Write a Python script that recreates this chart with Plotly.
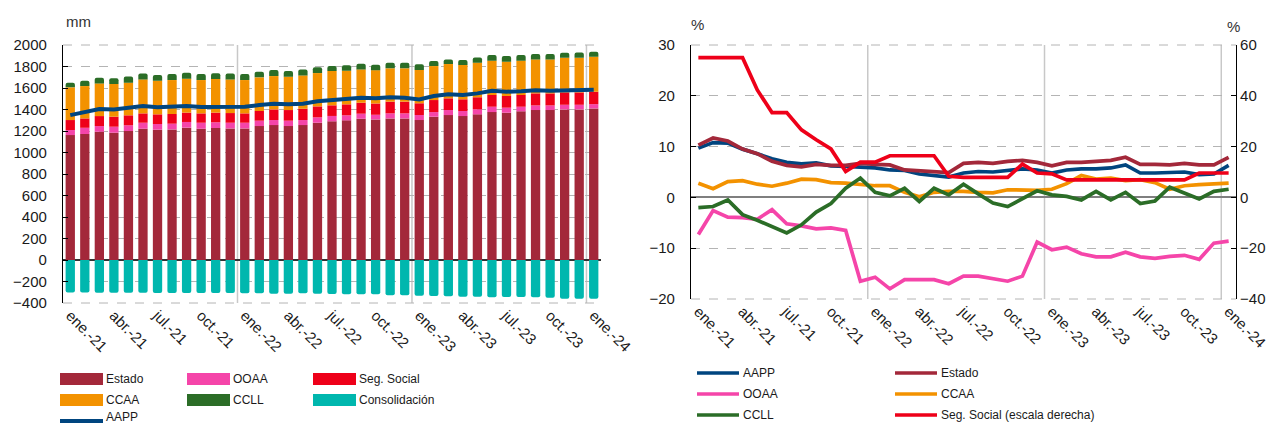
import plotly.graph_objects as go

# ---------------- data ----------------
months = ["ene.-21","feb.-21","mar.-21","abr.-21","may.-21","jun.-21","jul.-21","ago.-21","sep.-21","oct.-21","nov.-21","dic.-21",
          "ene.-22","feb.-22","mar.-22","abr.-22","may.-22","jun.-22","jul.-22","ago.-22","sep.-22","oct.-22","nov.-22","dic.-22",
          "ene.-23","feb.-23","mar.-23","abr.-23","may.-23","jun.-23","jul.-23","ago.-23","sep.-23","oct.-23","nov.-23","dic.-23",
          "ene.-24"]

# Left chart (mm)
estado = [1162,1172,1193,1184,1200,1221,1212,1215,1231,1221,1228,1224,1224,1246,1255,1246,1255,1277,1290,1299,1314,1308,1317,1317,
          1302,1333,1348,1339,1355,1376,1370,1383,1395,1395,1401,1401,1410]
ooaa = [47,58,53,56,53,56,53,53,53,56,53,53,53,50,47,50,47,50,50,47,47,43,47,47,47,43,47,47,47,50,47,43,43,43,43,43,40]
seg_social = [93,87,93,93,93,87,90,90,87,87,90,90,87,90,99,99,105,102,99,102,102,105,109,109,109,112,109,109,112,109,109,109,112,112,115,115,115]
ccaa = [304,301,304,304,304,316,313,316,316,310,313,313,310,313,310,310,310,310,319,313,310,310,310,310,310,316,319,319,322,319,319,319,316,316,322,322,326]
ccll = [43,50,53,53,56,56,53,56,56,56,53,56,56,53,56,53,56,53,47,50,53,50,53,53,53,47,43,47,47,53,53,53,50,50,47,50,47]
consolidacion = [-303,-303,-305,-305,-305,-305,-307,-307,-307,-307,-307,-307,-310,-310,-313,-313,-310,-313,-316,-319,-319,-319,-329,-329,
                 -332,-335,-338,-341,-341,-347,-344,-344,-347,-350,-360,-360,-360]
aapp = [1348,1373,1404,1401,1417,1432,1420,1423,1432,1423,1426,1426,1426,1441,1454,1448,1454,1476,1488,1494,1510,1504,1513,1510,
        1494,1525,1541,1535,1550,1575,1566,1569,1578,1575,1578,1578,1584]

# Right chart (%)
aapp_pct = [9.7,10.8,10.7,9.5,8.6,7.6,6.9,6.6,6.8,6.2,6.1,6.0,5.8,5.4,5.3,4.6,4.3,4.0,4.8,5.1,5.0,5.3,5.6,5.4,
            4.8,5.4,5.6,5.6,5.8,6.4,4.8,4.8,4.9,5.0,4.5,4.6,6.3]
estado_pct = [10.3,11.7,11.1,9.5,8.6,7.1,6.3,6.0,6.5,6.3,6.3,6.7,6.5,6.4,5.4,5.2,5.1,4.9,6.7,6.9,6.7,7.1,7.3,6.9,
              6.2,6.9,6.9,7.1,7.3,7.9,6.5,6.5,6.4,6.7,6.4,6.4,7.9]
ooaa_pct = [-7.3,-2.6,-3.9,-4.0,-4.3,-2.4,-5.2,-5.6,-6.2,-6.0,-6.5,-16.5,-15.7,-18.0,-16.2,-16.2,-16.2,-17.0,-15.5,-15.5,-16.0,-16.5,-15.5,-8.8,
            -10.3,-9.8,-11.1,-11.7,-11.7,-10.8,-11.7,-12.0,-11.6,-11.4,-12.2,-9.0,-8.6]
ccaa_pct = [2.8,1.7,3.1,3.3,2.6,2.2,2.8,3.6,3.5,2.9,2.8,2.6,2.3,2.3,1.0,0.1,1.0,1.2,1.2,1.0,0.9,1.5,1.4,1.4,
            1.6,2.7,4.3,3.6,3.8,3.3,3.5,2.9,1.6,2.3,2.5,2.7,2.8]
ccll_pct = [-2.0,-1.8,-0.5,-3.4,-4.5,-5.8,-7.0,-5.4,-2.9,-1.2,1.8,3.8,1.0,0.3,1.8,-0.8,1.8,0.5,2.6,0.7,-1.1,-1.8,-0.3,1.3,
            0.5,0.2,-0.5,1.2,-0.5,1.0,-1.2,-0.7,2.0,0.9,-0.3,1.2,1.6]
seg_social_pct = [55,55,55,55,42.3,33.4,33.4,26.6,22.7,19.1,10.2,13.9,13.9,16.4,16.4,16.4,16.4,8.3,7.9,7.9,7.9,7.9,13.1,9.6,
                  9.3,6.9,6.9,6.9,6.9,6.9,6.9,6.9,6.9,6.9,9.6,9.6,9.6]

# ---------------- styles ----------------
C_ESTADO = "#A3283A"
C_OOAA = "#F545A9"
C_SS = "#EE0019"
C_CCAA = "#F39200"
C_CCLL = "#2B6D27"
C_CONS = "#00B7AE"
C_AAPP = "#00457F"

W, H = 1274, 425
FONT = "Liberation Sans, Arial, Helvetica, sans-serif"
NARROW = "Liberation Sans Narrow, Arial Narrow, Liberation Sans, sans-serif"

x = list(range(len(months)))
tickvals = x[::3]
ticktext = months[::3]

def px_x(v):
    return v / W

def px_y(v):
    return 1 - v / H

fig = go.Figure()

bar_series = [("Estado", estado, C_ESTADO), ("OOAA", ooaa, C_OOAA), ("Seg. Social", seg_social, C_SS),
              ("CCAA", ccaa, C_CCAA), ("CCLL", ccll, C_CCLL), ("Consolidación", consolidacion, C_CONS)]
for name, vals, col in bar_series:
    fig.add_trace(go.Bar(x=x, y=vals, name=name, marker=dict(color=col, line=dict(width=0)),
                         xaxis="x", yaxis="y", showlegend=False))
fig.add_trace(go.Scatter(x=x, y=aapp, name="AAPP", mode="lines", line=dict(color=C_AAPP, width=4),
                         xaxis="x", yaxis="y", showlegend=False))

line_series = [("AAPP", aapp_pct, C_AAPP, "y2"), ("Estado", estado_pct, C_ESTADO, "y2"),
               ("OOAA", ooaa_pct, C_OOAA, "y2"), ("CCAA", ccaa_pct, C_CCAA, "y2"),
               ("CCLL", ccll_pct, C_CCLL, "y2"), ("Seg. Social (escala derecha)", seg_social_pct, C_SS, "y3")]
for name, vals, col, ya in line_series:
    fig.add_trace(go.Scatter(x=x, y=vals, name=name, mode="lines", line=dict(color=col, width=3.7),
                             xaxis="x2", yaxis=ya, showlegend=False))

tickfont = dict(family=FONT, size=15, color="#1a1a1a")
xcommon = dict(range=[-0.5, 36.5], tickmode="array", tickvals=tickvals, ticktext=ticktext, tickangle=45,
               showgrid=False, zeroline=False, showline=False, ticks="", tickfont=tickfont, automargin=False)
ycommon = dict(showgrid=True, gridcolor="#b4b4b4", griddash="dash", gridwidth=1,
               showline=True, linecolor="#000000", linewidth=1.2, ticks="inside", ticklen=5,
               tickcolor="#000000", tickfont=tickfont, automargin=False, ticklabelstandoff=12)

fig.update_layout(
    width=W, height=H, margin=dict(l=0, r=0, t=0, b=0, autoexpand=False),
    paper_bgcolor="white", plot_bgcolor="white",
    barmode="relative", bargap=0.36, barcornerradius=2,
    showlegend=False,
    xaxis=dict(domain=[px_x(63), px_x(601)], anchor="y", **xcommon),
    yaxis=dict(domain=[px_y(303), px_y(45)], range=[-400, 2000], dtick=200, anchor="x",
               zeroline=True, zerolinecolor="#333333", zerolinewidth=1.5, **ycommon),
    xaxis2=dict(domain=[px_x(691), px_x(1236)], anchor="y2", **xcommon),
    yaxis2=dict(domain=[px_y(299), px_y(45)], range=[-20, 30], dtick=10, anchor="x2",
                zeroline=True, zerolinecolor="#7f7f7f", zerolinewidth=2, **ycommon),
    yaxis3=dict(range=[-40, 60], dtick=20, overlaying="y2", side="right", anchor="x2",
                showgrid=False, zeroline=False, showline=True, linecolor="#000000", linewidth=1.2,
                ticks="inside", ticklen=5, tickcolor="#000000", tickfont=tickfont, automargin=False,
                ticklabelstandoff=0),
)

shapes = []
for xr, yr in (("x", "y domain"), ("x2", "y2 domain")):
    for b in (11.5, 23.5, 35.5):
        shapes.append(dict(type="line", xref=xr, yref=yr, x0=b, x1=b, y0=0, y1=1,
                           line=dict(color="#c8c8c8", width=1.5), layer="below"))
    for edge in (0, 1):
        shapes.append(dict(type="line", xref=xr + " domain", yref=yr, x0=0, x1=1, y0=edge, y1=edge,
                           line=dict(color="#b4b4b4", width=1, dash="dash"), layer="below"))

annotations = [
    dict(text="mm", x=px_x(64), y=px_y(22), xref="paper", yref="paper", xanchor="left", yanchor="middle",
         showarrow=False, font=dict(family=FONT, size=15, color="#333333")),
    dict(text="%", x=px_x(689), y=px_y(24), xref="paper", yref="paper", xanchor="left", yanchor="middle",
         showarrow=False, font=dict(family=FONT, size=15, color="#333333")),
    dict(text="%", x=px_x(1225), y=px_y(27), xref="paper", yref="paper", xanchor="left", yanchor="middle",
         showarrow=False, font=dict(family=FONT, size=15, color="#333333")),
]

# Left legend (custom swatches)
left_legend = [("Estado", C_ESTADO, 0, 0, "rect"), ("OOAA", C_OOAA, 1, 0, "rect"), ("Seg. Social", C_SS, 2, 0, "rect"),
               ("CCAA", C_CCAA, 0, 1, "rect"), ("CCLL", C_CCLL, 1, 1, "rect"), ("Consolidación", C_CONS, 2, 1, "rect"),
               ("AAPP", C_AAPP, 0, 2, "line")]
col_x = [60, 187, 313]
row_y = [379, 400, 417]
for name, col, c, r, kind in left_legend:
    x0 = col_x[c]
    yc = row_y[r]
    if kind == "rect":
        shapes.append(dict(type="rect", xref="paper", yref="paper", x0=px_x(x0), x1=px_x(x0 + 43),
                           y0=px_y(yc + 6), y1=px_y(yc - 6), fillcolor=col, line=dict(width=0)))
    else:
        shapes.append(dict(type="rect", xref="paper", yref="paper", x0=px_x(x0), x1=px_x(x0 + 43),
                           y0=px_y(yc + 6), y1=px_y(yc + 2), fillcolor=col, line=dict(width=0)))
    annotations.append(dict(text=name, x=px_x(x0 + 44), y=px_y(yc), xref="paper", yref="paper",
                            xanchor="left", yanchor="middle", showarrow=False,
                            font=dict(family=NARROW, size=12, color="#1a1a1a")))

# Right legend
right_legend = [("AAPP", C_AAPP, 0, 0), ("Estado", C_ESTADO, 1, 0), ("OOAA", C_OOAA, 0, 1),
                ("CCAA", C_CCAA, 1, 1), ("CCLL", C_CCLL, 0, 2), ("Seg. Social (escala derecha)", C_SS, 1, 2)]
rcol_x = [697, 895]
rrow_y = [373, 394, 415]
for name, col, c, r in right_legend:
    x0 = rcol_x[c]
    yc = rrow_y[r]
    shapes.append(dict(type="line", xref="paper", yref="paper", x0=px_x(x0), x1=px_x(x0 + 42),
                       y0=px_y(yc), y1=px_y(yc), line=dict(color=col, width=3.5)))
    annotations.append(dict(text=name, x=px_x(x0 + 44), y=px_y(yc), xref="paper", yref="paper",
                            xanchor="left", yanchor="middle", showarrow=False,
                            font=dict(family=NARROW, size=12, color="#1a1a1a")))

fig.update_layout(shapes=shapes, annotations=annotations)

fig.write_html("out.html", config={"displayModeBar": False},
               post_script="document.body.style.margin='0';document.body.style.overflow='hidden';")
